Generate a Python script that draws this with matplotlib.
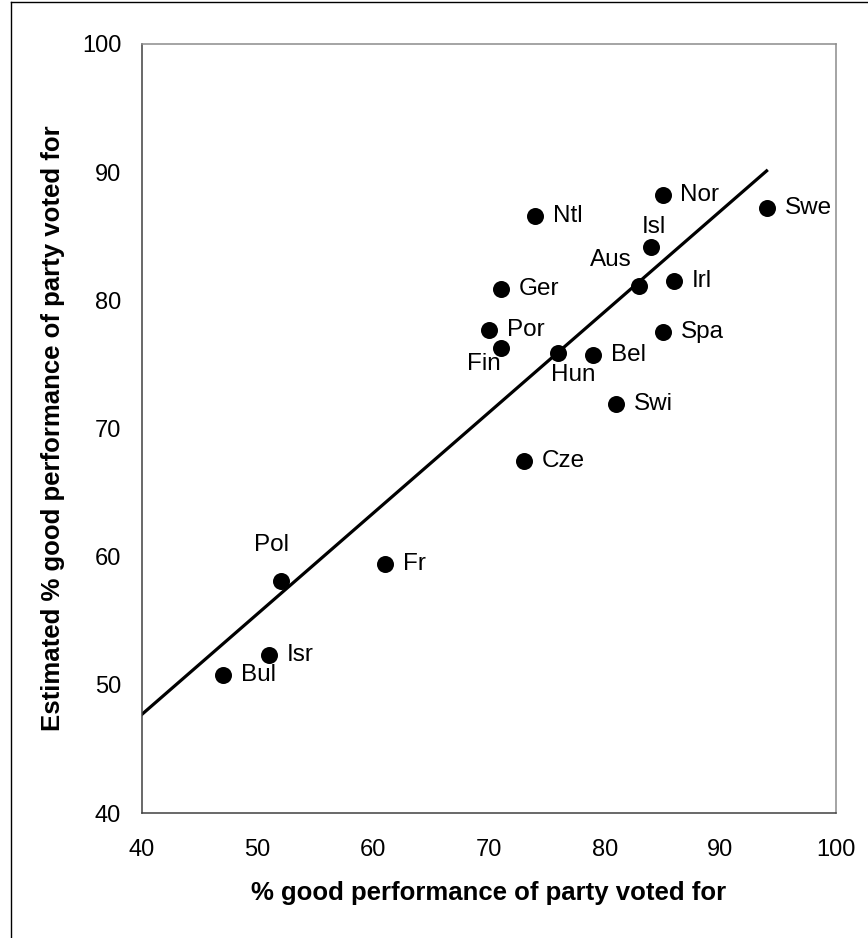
import matplotlib
matplotlib.use("Agg")
import matplotlib.pyplot as plt
from matplotlib.lines import Line2D

plt.rcParams['font.family'] = ['Liberation Sans', 'DejaVu Sans']

# country codes and values
countries = ['Bul', 'Isr', 'Pol', 'Fr', 'Cze', 'Por', 'Fin', 'Ger', 'Ntl', 'Hun',
             'Bel', 'Swi', 'Aus', 'Isl', 'Nor', 'Irl', 'Spa', 'Swe']
good_perf = [47, 51, 52, 61, 73, 70, 71, 71, 74, 76,
             79, 81, 83, 84, 85, 86, 85, 94]
est_perf = [50.8, 52.3, 58.1, 59.4, 67.5, 77.7, 76.3, 80.9, 86.6, 75.9,
            75.7, 71.9, 81.1, 84.2, 88.2, 81.5, 77.5, 87.2]

# trend line end points
trend_x = [40, 94]
trend_y = [47.7, 90.1]

# where each label sits relative to its dot (pixels, alignment)
label_pos = {
    'Isl': (3, 20, 'center'),
    'Aus': (-29, 26, 'center'),
    'Fin': (-17, -16, 'center'),
    'Hun': (15, -22, 'center'),
    'Pol': (-9, 36, 'center'),
}

fig = plt.figure(figsize=(8.68, 9.38), dpi=100)
ax = fig.add_axes([142 / 868, 1 - 813 / 938, 694 / 868, 769 / 938])

ax.plot(trend_x, trend_y, color='black', lw=2.3, zorder=2)
ax.scatter(good_perf, est_perf, s=150, color='black', zorder=3, linewidths=0)

for name, xv, yv in zip(countries, good_perf, est_perf):
    dx, dy, ha = label_pos.get(name, (18, 0, 'left'))
    ax.annotate(name, (xv, yv), xytext=(dx, dy), textcoords='offset pixels',
                ha=ha, va='center', fontsize=17.5)

ax.set_xlim(40, 100)
ax.set_ylim(40, 100)
ax.set_xticks(range(40, 101, 10))
ax.set_yticks(range(40, 101, 10))
ax.tick_params(axis='both', length=0, labelsize=17)
ax.tick_params(axis='x', pad=19)
ax.tick_params(axis='y', pad=15)

for side in ['left', 'bottom']:
    ax.spines[side].set_color('#404040')
    ax.spines[side].set_linewidth(1.1)
for side in ['top', 'right']:
    ax.spines[side].set_color('#8c8c8c')
    ax.spines[side].set_linewidth(1.1)

ax.set_xlabel('% good performance of party voted for', fontsize=18.5,
              fontweight='bold', va='center')
ax.xaxis.set_label_coords(0.5, (813 - 893) / 769)
ax.set_ylabel('Estimated % good performance of party voted for', fontsize=18.5,
              fontweight='bold', va='center')
ax.yaxis.set_label_coords((53 - 142) / 694, 0.5)

# outer frame on the left and top edges
fx = 11 / 868
fy = 1 - 2.5 / 938
fig.add_artist(Line2D([fx, fx], [0, fy], color='black', lw=1))
fig.add_artist(Line2D([fx, 1], [fy, fy], color='black', lw=1))

fig.savefig('out.png', dpi=100)
